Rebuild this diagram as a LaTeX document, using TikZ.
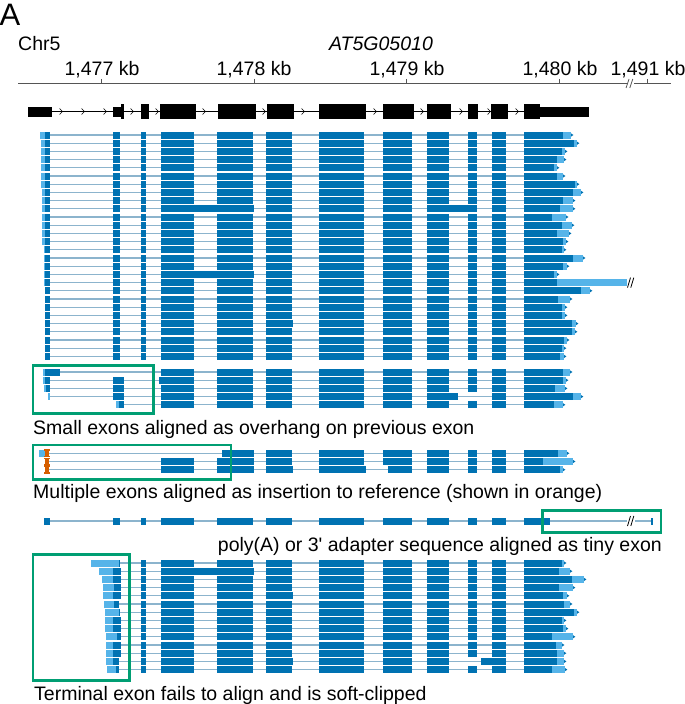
\documentclass[tikz,border=0pt]{standalone}
\usepackage{fontspec}
\setmainfont{Liberation Sans}
\definecolor{dkb}{HTML}{0072B2}
\definecolor{ltb}{HTML}{56B4E9}
\definecolor{intc}{RGB}{140,180,205}
\definecolor{grn}{HTML}{009E73}
\definecolor{orn}{HTML}{D55E00}
\definecolor{axc}{RGB}{85,85,85}
% bar: colour, x1, x2, y
\newcommand\rb[4]{\fill[#1] (#2,#4-3.5) rectangle (#3,#4+3.5);}
% small arrow tip at read end
\newcommand\tip[2]{\fill[dkb] (#1,#2-1.6) -- (#1+2.4,#2) -- (#1,#2+1.6) -- cycle;}
% terminal exon: y, dark end, light end
\newcommand\term[3]{\rb{ltb}{#2}{#3}{#1}\rb{dkb}{524}{#2}{#1}\tip{#3}{#1}}
% exons 4..9 of a read
\newcommand\exmid[1]{\foreach \ea/\eb in {161/194,217/253,266/292,319/364,383/412,427/449}{\rb{dkb}{\ea}{\eb}{#1}}}
% exons 10, 11
\newcommand\exlate[1]{\rb{dkb}{468}{477}{#1}\rb{dkb}{492}{506}{#1}}
% orange insertion mark
\newcommand\ins[1]{\fill[orn] (45.4,#1-4) rectangle (48.6,#1+4);
  \fill[orn] (44.2,#1-4) rectangle (49.8,#1-2.4);
  \fill[orn] (44.2,#1+2.4) rectangle (49.8,#1+4);
  \fill[orn] (44.8,#1-1.1) rectangle (49.2,#1+1.1);}
% gene model pieces
\newcommand\gthick[2]{\fill[black] (#1,104) rectangle (#2,119);}
\newcommand\gthin[2]{\fill[black] (#1,106.7) rectangle (#2,116.7);}
\newcommand\brk[2]{\draw[black, line width=0.8pt] (#1-1.5,#2+5) -- (#1+1.5,#2-5) (#1+1.8,#2+5) -- (#1+4.8,#2-5);}
\begin{document}
\begin{tikzpicture}[x=1pt, y=-1pt,
  intr/.style={draw=intc, line width=1.1pt},
  gbox/.style={draw=grn, line width=2.7pt},
  lab/.style={font=\fontsize{19.5}{22}\selectfont, inner sep=0pt, text=black},
  chev/.style={draw=black, line width=0.6pt}]
\useasboundingbox (0,0) rectangle (685,704);

% ---------------- header ----------------
\node[lab, anchor=base west, font=\fontsize{31}{34}\selectfont] (pA) at (-0.5,25) {A};
\node[lab, anchor=base west] (chr) at (18,50) {Chr5};
\node[lab, anchor=base] (gene) at (381,50) {\itshape AT5G05010};
\node[lab, anchor=base] (t1) at (102,75) {1,477 kb};
\node[lab, anchor=base] (t2) at (254,75) {1,478 kb};
\node[lab, anchor=base] (t3) at (407,75) {1,479 kb};
\node[lab, anchor=base] (t4) at (560,75) {1,480 kb};
\node[lab, anchor=base] (t5) at (648,75) {1,491 kb};
\draw[axc, line width=1pt] (18,83.3) -- (626.5,83.3) (634,83.3) -- (671,83.3);
\foreach \tx in {101,254,406,559,647}{\draw[axc, line width=0.8pt] (\tx,78.8) -- (\tx,83.3);}
\draw[axc, line width=0.8pt] (626,88) -- (629,79) (629.8,88) -- (632.8,79);

% gene model
\draw[black, line width=0.8pt] (52,111.5) -- (524,111.5);
\gthin{28.3}{52.3}
\gthin{113.3}{120.7}\gthick{120.7}{124}
\gthick{141.3}{148.7}
\gthick{160.3}{195.7}
\gthick{217.7}{256}
\gthick{266.7}{293.7}
\gthick{319.3}{366}
\gthick{383.3}{414}
\gthick{426.7}{451}
\gthick{467.7}{478.3}
\gthick{491}{507.7}
\gthick{524.3}{540}\gthin{540}{589.3}
\foreach \cx in {61,83,105,132,157,204,264,303,375,422,461,489,517}{\draw[chev] (\cx-1.4,108.5) -- (\cx+1.4,111.5) -- (\cx-1.4,114.5);}

% ---------------- section 1: normal reads ----------------
\foreach \s/\d/\l [count=\i] in {40/563/571,40.7/574/577,40.7/562/565,41.3/557/564,41.3/554/557,41.3/557/563,41.3/575/577,42.3/573/581,42.3/563/573,42/560/573,42/552/566,42/562/572,42/557/569,42.3/563/566,43.7/562/564,43.7/573/583,43.7/563/567,43.7/554/557,44.3/557/557,44.5/581/590,44.5/558/570,44.5/562/565,44.5/562/565,44.5/572/576,44.5/572/575,45/564/567,45.3/562/564,45.3/560/564}{
  \pgfmathsetmacro\y{135+8.2*(\i-1)}
  \draw[intr] (50,\y) -- (524,\y);
  \rb{ltb}{\s}{45}{\y}\rb{dkb}{45}{50}{\y}
  \rb{dkb}{113}{120}{\y}\rb{dkb}{141}{146}{\y}
  \exmid{\y}\exlate{\y}
  \term{\y}{\d}{\l}
}
% retained introns and long tail
\rb{dkb}{161}{254}{208.8}\rb{dkb}{427}{477}{208.8}
\rb{dkb}{161}{254}{274.4}
\rb{ltb}{557}{627}{282.6}
\brk{629}{282.6}
\rb{dkb}{266}{293}{323.6}

% ---------------- section 2: overhang ----------------
% row 1
\draw[intr] (60,372) -- (524,372);
\rb{ltb}{43}{45}{372}\rb{dkb}{45}{60}{372}
\exmid{372}\exlate{372}\term{372}{563}{570}
% row 2
\draw[intr] (50,380.2) -- (524,380.2);
\rb{ltb}{43.3}{45.3}{380.2}\rb{dkb}{45.3}{50}{380.2}
\rb{dkb}{113}{124}{380.2}\rb{dkb}{159.3}{170}{380.2}
\exmid{380.2}\exlate{380.2}\term{380.2}{563}{566}
% row 3
\draw[intr] (50,388.4) -- (524,388.4);
\rb{ltb}{44}{45.7}{388.4}\rb{dkb}{45.7}{50}{388.4}
\rb{dkb}{113}{124}{388.4}
\exmid{388.4}\exlate{388.4}\term{388.4}{555}{565}
% row 4
\draw[intr] (50,396.6) -- (524,396.6);
\rb{ltb}{48}{50}{396.6}
\rb{dkb}{113}{124}{396.6}
\exmid{396.6}\rb{dkb}{427}{458}{396.6}\rb{dkb}{492}{506}{396.6}
\term{396.6}{573}{581}
% row 5
\draw[intr] (119,404.8) -- (524,404.8);
\rb{ltb}{115.7}{119}{404.8}\rb{dkb}{119}{124}{404.8}
\exmid{404.8}\exlate{404.8}\term{404.8}{554}{563}

% ---------------- section 3: insertion ----------------
% row 1
\draw[intr] (45,453.3) -- (524,453.3);
\rb{ltb}{39}{45}{453.3}
\foreach \ea/\eb in {222/254,266/292,319/364,383/412,427/449}{\rb{dkb}{\ea}{\eb}{453.3}}
\exlate{453.3}\term{453.3}{558}{567}
% row 2
\draw[intr] (45,461.5) -- (524,461.5);
\exmid{461.5}\rb{dkb}{217}{254}{461.5}\exlate{461.5}\term{461.5}{543}{573}
% row 3
\draw[intr] (45,469.7) -- (524,469.7);
\foreach \ea/\eb in {161/194,217/254,266/293,319/366,388/412,427/449}{\rb{dkb}{\ea}{\eb}{469.7}}
\exlate{469.7}\term{469.7}{560}{563}
\ins{453.3}\ins{461.5}\ins{469.7}

% ---------------- section 4: poly(A) ----------------
\draw[intr] (50,521) -- (524,521) (550,521) -- (627,521) (635,521) -- (652,521);
\rb{dkb}{44}{50}{521}
\rb{dkb}{113}{120}{521}\rb{dkb}{141}{146}{521}
\exmid{521}\exlate{521}
\rb{dkb}{524}{550}{521}
\rb{dkb}{651.3}{653}{521}
\brk{629}{521}

% ---------------- section 5: soft-clipped ----------------
\foreach \a/\b/\c/\d/\l [count=\i] in {91/119/120/562/564,99.3/113.3/120.7/559/570,102.3/113.3/120.7/572/584,103/114/120.7/559/573,103/113.3/120.7/563/567,104/114/119.3/564/570,104.7/119.3/119.8/574/577,105.3/113.3/120.7/562/564,105.3/113.3/120.7/563/566,106/117.3/120.7/552/573,106/113.3/120.7/556/562,106/113.3/120.7/557/564,106/113.3/119.3/557/564,107.3/116/119.3/552/565}{
  \pgfmathsetmacro\y{563+8.2*(\i-1)}
  \draw[intr] (\c,\y) -- (524,\y);
  \rb{ltb}{\a}{\b}{\y}\rb{dkb}{\b}{\c}{\y}
  \rb{dkb}{141}{146}{\y}
  \exmid{\y}
  \ifnum\i=13 \rb{dkb}{481}{506}{\y}\else\exlate{\y}\fi
  \term{\y}{\d}{\l}
}
\rb{dkb}{161}{254}{571.2}
\rb{dkb}{266}{293}{595.8}
\rb{dkb}{266}{293}{661.4}

% ---------------- labels ----------------
\node[lab, anchor=base west] (l1) at (33,434.3) {Small exons aligned as overhang on previous exon};
\node[lab, anchor=base west] (l2) at (33,498.3) {Multiple exons aligned as insertion to reference (shown in orange)};
\node[lab, anchor=base east] (l3) at (662,551) {poly(A) or 3\textquotesingle\ adapter sequence aligned as tiny exon};
\node[lab, anchor=base west] (l4) at (34,700) {Terminal exon fails to align and is soft-clipped};

% ---------------- green boxes ----------------
\draw[gbox] (33,365.6) rectangle (153.7,413.7);
\draw[gbox] (33,445) rectangle (231,479.6);
\draw[gbox] (542.3,510.3) rectangle (661,532.7);
\draw[gbox] (33,554.6) rectangle (129.7,680.4);
\end{tikzpicture}
\end{document}
